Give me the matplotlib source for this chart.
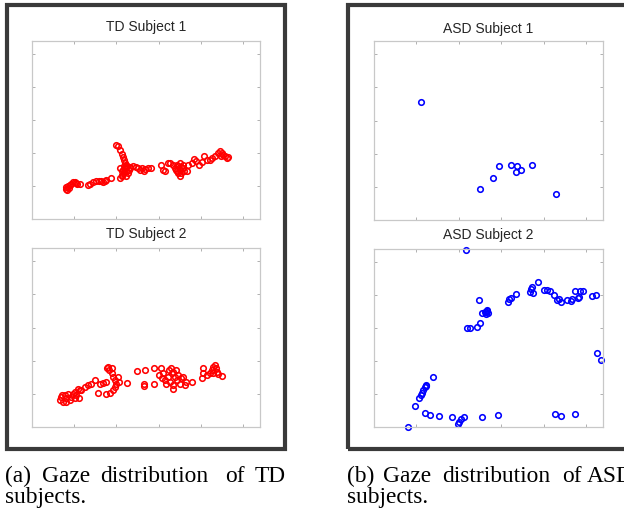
import matplotlib.pyplot as plt
from matplotlib.patches import Rectangle

# gaze points in screen pixels (0..1080 on both axes)
td1_x = [160, 163, 168, 171, 175, 179, 187, 194, 202, 207, 213, 226,
         266, 277, 289, 302, 318, 329, 337, 345, 349, 373,
         400, 405, 416, 424, 432, 435, 440, 444,
         419, 424, 428, 432, 436, 441, 444, 447, 452, 455, 460, 419, 425, 435, 447, 463,
         466, 479, 492, 503, 519, 534, 550, 566, 530, 511,
         609, 621, 629, 645, 656, 669, 685,
         677, 685, 692, 700, 700, 708, 713, 716, 692, 700, 683, 719, 708,
         732, 740, 756, 767, 779, 792, 803, 814, 827, 843, 851, 866, 882, 890,
         898, 906, 914, 922, 930, 893]
td1_y = [182, 194, 178, 202, 188, 208, 214, 222, 226, 218, 214, 214,
         208, 214, 222, 228, 232, 228, 222, 232, 238, 248,
         450, 440, 416, 396, 376, 355, 339, 323,
         309, 289, 269, 299, 279, 309, 258, 289, 319, 279, 299, 248, 262, 323, 329, 309,
         315, 319, 315, 309, 309, 303, 309, 309, 289, 299,
         329, 299, 289, 339, 339, 329, 329,
         309, 289, 319, 339, 299, 279, 309, 329, 279, 258, 299, 289, 315,
         289, 329, 339, 363, 349, 329, 343, 380, 359, 355, 369, 380, 400, 410,
         400, 390, 380, 369, 376, 380]

td2_x = [131, 139, 147, 155, 163, 171, 179, 187, 194, 202, 210, 218, 223, 226, 234, 144, 163, 202,
         250, 266, 281, 297, 313, 321, 336, 352, 360, 365, 377, 385, 392, 400, 408, 413,
         392, 385, 368, 352, 355, 377, 451,
         498, 537, 530, 530, 579, 579, 610,
         602, 614, 621, 629, 637, 645, 653, 658, 666, 669, 669, 677, 681, 685, 692, 700,
         708, 716, 724, 730, 756, 661, 650,
         806, 811, 808, 827, 843, 859, 866, 871, 874, 882, 898, 859, 851]
td2_y = [162, 182, 151, 192, 172, 202, 162, 182, 202, 212, 192, 232, 172, 222, 226, 192, 151, 172,
         242, 252, 262, 283, 206, 262, 266, 273, 363, 343, 323, 303, 283, 262, 303, 273,
         242, 222, 206, 202, 353, 353, 266,
         339, 343, 262, 246, 262, 353, 357,
         313, 293, 323, 283, 262, 303, 273, 353, 333, 252, 232, 303, 343, 283, 313, 262,
         293, 303, 252, 273, 273, 323, 343,
         293, 323, 353, 313, 323, 363, 373, 353, 333, 319, 307, 323, 343]

asd1_x = [220, 499, 563, 589, 647, 675, 668, 694, 743, 858]
asd1_y = [714, 189, 251, 328, 332, 328, 288, 304, 334, 157]

asd2_x = [434, 162, 192, 214, 220, 227, 233, 241, 247, 244, 280,
          241, 263, 307, 368, 395, 400, 409, 423, 510, 586,
          438, 453, 486, 499, 493, 509, 524, 532, 537, 527, 529, 531,
          630, 637, 647, 671, 736, 744, 752, 741, 772, 801, 817, 828,
          851, 862, 872, 880, 909, 930, 936, 949, 961, 968, 972, 988,
          1028, 1047, 1051, 1069, 852, 880, 946]
asd2_y = [1076, 0, 128, 178, 192, 207, 223, 243, 253, 249, 304,
          83, 75, 69, 61, 16, 28, 49, 59, 63, 73,
          602, 602, 604, 628, 772, 693, 699, 709, 689, 685, 695, 703,
          760, 774, 784, 807, 822, 849, 816, 836, 880, 831, 831, 827,
          802, 770, 774, 756, 770, 764, 774, 823, 784, 788, 827, 827,
          794, 798, 446, 409, 81, 67, 81]

panels = [
    ("TD Subject 1", td1_x, td1_y, "red", (32, 41, 228, 178), 27.5),
    ("TD Subject 2", td2_x, td2_y, "red", (32, 248, 228, 179), 234),
    ("ASD Subject 1", asd1_x, asd1_y, "blue", (374, 41, 229, 179), 28.5),
    ("ASD Subject 2", asd2_x, asd2_y, "blue", (374, 249, 229, 178), 235),
]

W, H = 624, 516
fig = plt.figure(figsize=(W / 100, H / 100), dpi=100)

for title, xs, ys, col, (l, t, w, h), ty in panels:
    ax = fig.add_axes([l / W, 1 - (t + h) / H, w / W, h / H])
    ax.plot(xs, ys, 'o', color=col, mfc='none', ms=4.0, mew=1.15, clip_on=False)
    ax.set_xlim(0, 1080)
    ax.set_ylim(0, 1080)
    ax.set_xticks([200, 400, 600, 800, 1000])
    ax.set_yticks([200, 400, 600, 800, 1000])
    ax.tick_params(direction='in', length=2.5, width=0.7, color='#b0b0b0',
                   top=True, right=True, labelbottom=False, labelleft=False)
    for s in ax.spines.values():
        s.set_color('#c8c8c8')
        s.set_linewidth(0.9)
    fig.text((l + w / 2) / W, 1 - ty / H, title, ha='center', va='center',
             fontsize=10, family='Liberation Sans', color='#262626')

# outer frames around each sub-figure
for x0, x1 in [(7, 285), (347.5, 626)]:
    fig.patches.append(Rectangle((x0 / W, 1 - 449 / H), (x1 - x0) / W, (449 - 5) / H,
                                 transform=fig.transFigure, fill=False,
                                 edgecolor='#3a3a3a', linewidth=3.0))

# captions, justified word by word
cap_a = [("(a)", 5), ("Gaze", 42), ("distribution", 100), ("of", 225), ("TD", 255)]
cap_b = [("(b)", 347), ("Gaze", 383), ("distribution", 442), ("of", 562), ("ASD", 587)]
for words in (cap_a, cap_b):
    for word, x in words:
        fig.text(x / W, 1 - 482 / H, word, ha='left', va='baseline',
                 fontsize=16.8, family='Liberation Serif', color='black')
for x in (5, 347):
    fig.text(x / W, 1 - 503 / H, "subjects.", ha='left', va='baseline',
             fontsize=16.8, family='Liberation Serif', color='black')

fig.savefig('out.png', dpi=100)
